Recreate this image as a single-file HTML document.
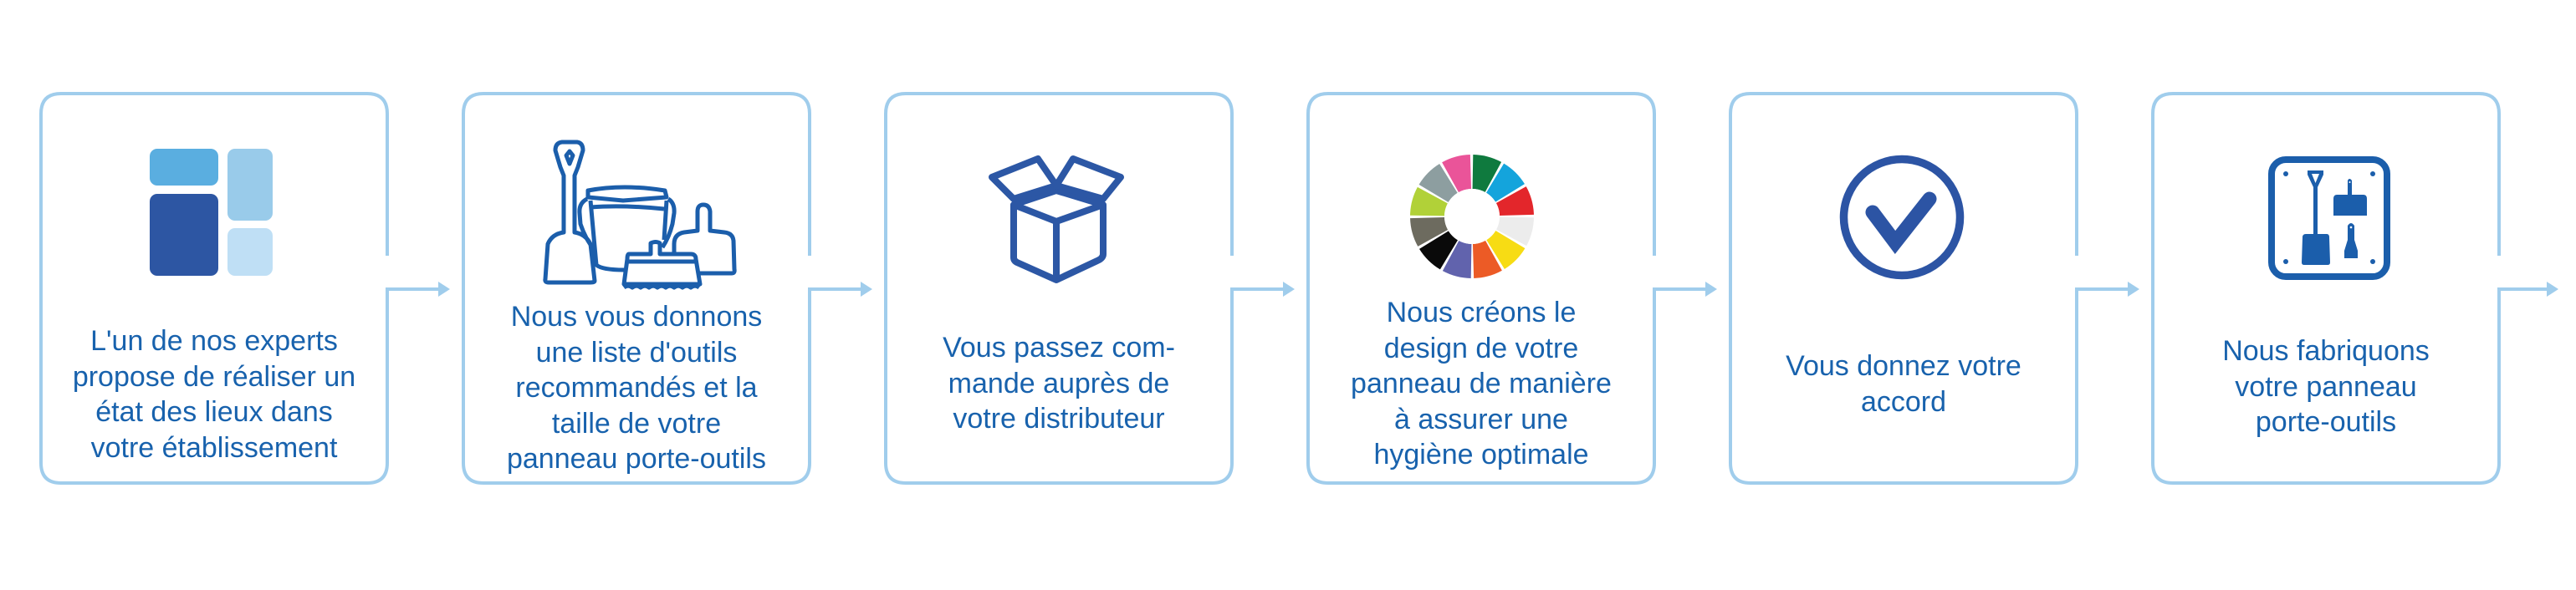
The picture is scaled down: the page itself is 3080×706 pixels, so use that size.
<!DOCTYPE html>
<html><head><meta charset="utf-8"><style>
html,body{margin:0;padding:0;background:#fff;}
body{width:3080px;height:706px;position:relative;overflow:hidden;}
.t{position:absolute;width:414px;text-align:center;font-family:"Liberation Sans",sans-serif;font-size:34px;line-height:42.5px;color:#1862ad;}
svg{position:absolute;left:0;top:0;}
</style></head><body>
<svg width="3080" height="706" viewBox="0 0 3080 706">
<g fill="none" stroke="#a0cdec" stroke-width="4">
<path d="M463 306 V136 Q463 112 439 112 H73 Q49 112 49 136 V554 Q49 578 73 578 H439 Q463 578 463 554 V346 H528"/>
<path d="M968 306 V136 Q968 112 944 112 H578 Q554 112 554 136 V554 Q554 578 578 578 H944 Q968 578 968 554 V346 H1033"/>
<path d="M1473 306 V136 Q1473 112 1449 112 H1083 Q1059 112 1059 136 V554 Q1059 578 1083 578 H1449 Q1473 578 1473 554 V346 H1538"/>
<path d="M1978 306 V136 Q1978 112 1954 112 H1588 Q1564 112 1564 136 V554 Q1564 578 1588 578 H1954 Q1978 578 1978 554 V346 H2043"/>
<path d="M2483 306 V136 Q2483 112 2459 112 H2093 Q2069 112 2069 136 V554 Q2069 578 2093 578 H2459 Q2483 578 2483 554 V346 H2548"/>
<path d="M2988 306 V136 Q2988 112 2964 112 H2598 Q2574 112 2574 136 V554 Q2574 578 2598 578 H2964 Q2988 578 2988 554 V346 H3053"/>
</g>
<g fill="#a0cdec">
<polygon points="524,337 538,346 524,355"/>
<polygon points="1029,337 1043,346 1029,355"/>
<polygon points="1534,337 1548,346 1534,355"/>
<polygon points="2039,337 2053,346 2039,355"/>
<polygon points="2544,337 2558,346 2544,355"/>
<polygon points="3045,337 3059,346 3045,355"/>
</g>
<!-- icon 1 -->
<rect x="179" y="178" width="82" height="44" rx="9" fill="#5aaee0"/>
<rect x="272" y="178" width="54" height="86" rx="9" fill="#99cbea"/>
<rect x="179" y="232" width="82" height="98" rx="9" fill="#2d56a3"/>
<rect x="272" y="273" width="54" height="57" rx="9" fill="#bfdff5"/>
<!-- icon 2 tools -->
<g fill="none" stroke="#1b5eab" stroke-width="5" stroke-linejoin="round">
<path d="M672 170 H690 Q697 171 697 180 L691 200 L687 210 V278 Q700 280 706 292 L711 336 Q711 338 706 338 H656 Q651 338 652 334 L655 292 Q660 280 674 278 V210 L670 200 L664 180 Q664 171 672 170 Z"/>
<path d="M681 181 L677 186 L681 196 L685 186 Z"/>
<path d="M703 228 Q745 220 795 228 L797 236 L745 240 L703 236 Z"/>
<path d="M706 240 L713 317 Q720 323 746 323"/>
<path d="M797 240 L794 287"/>
<path d="M706 248 Q745 245 794 250"/>
<path d="M702 238 Q692 243 693 255 L694 268 Q700 286 710 298"/>
<path d="M799 238 Q807 243 806 255 L804 268 Q800 284 792 296"/>
<path d="M752 304 H778 V291 Q784 288 789 291 V304 H826 Q832 304 832 310 L837 340 H746 L750 310 Q750 304 752 304 Z"/>
<path d="M750 313 H834"/>
<path d="M746 344 Q751 340 756 344 Q761 340 766 344 Q771 340 776 344 Q781 340 786 344 Q791 340 796 344 Q801 340 806 344 Q811 340 816 344 Q821 340 826 344 Q831 340 836 344"/>
<path d="M836 327 H875 Q879 327 878 322 L877 288 Q876 279 866 278 L849 276 V253 Q848 245 841 245 Q834 245 834 253 V276 L818 278 Q806 280 806 292 V304"/>
</g>
<!-- icon 3 box -->
<g fill="none" stroke="#2c57a5" stroke-width="8" stroke-linejoin="round">
<path d="M1212 245 L1263 228 L1319 245 L1263 265 Z"/>
<path d="M1212 245 V308 Q1212 312 1216 314 L1263 335 L1312 312 Q1319 309 1319 304 V245"/>
<path d="M1263 265 V335"/>
<path d="M1212 238 L1186 212 L1241 190 L1263 222 Z"/>
<path d="M1319 238 L1340 212 L1283 190 L1263 222 Z"/>
</g>
<!-- icon 4 wheel -->
<g transform="translate(1760 259) scale(1 1)" fill="none" stroke-width="41">
<circle r="53.5" stroke="#0f7a3e" stroke-dasharray="25.5 400" transform="rotate(-89)"/>
<circle r="53.5" stroke="#14a4dc" stroke-dasharray="25.5 400" transform="rotate(-59)"/>
<circle r="53.5" stroke="#e3262b" stroke-dasharray="25.5 400" transform="rotate(-29)"/>
<circle r="53.5" stroke="#ececec" stroke-dasharray="25.5 400" transform="rotate(1)"/>
<circle r="53.5" stroke="#f7dc14" stroke-dasharray="25.5 400" transform="rotate(31)"/>
<circle r="53.5" stroke="#ec5b26" stroke-dasharray="25.5 400" transform="rotate(61)"/>
<circle r="53.5" stroke="#6163ad" stroke-dasharray="25.5 400" transform="rotate(91)"/>
<circle r="53.5" stroke="#0a0a0a" stroke-dasharray="25.5 400" transform="rotate(121)"/>
<circle r="53.5" stroke="#6d6b5f" stroke-dasharray="25.5 400" transform="rotate(151)"/>
<circle r="53.5" stroke="#b1d138" stroke-dasharray="25.5 400" transform="rotate(181)"/>
<circle r="53.5" stroke="#8d9ea0" stroke-dasharray="25.5 400" transform="rotate(211)"/>
<circle r="53.5" stroke="#ea5499" stroke-dasharray="25.5 400" transform="rotate(241)"/>
</g>
<circle cx="1760" cy="259" r="33" fill="#fff"/>
<!-- icon 5 check -->
<circle cx="2274" cy="260" r="69.5" fill="none" stroke="#2c54a4" stroke-width="9.5"/>
<polyline points="2239,254 2266,290 2307,238" fill="none" stroke="#2c54a4" stroke-width="17" stroke-linejoin="miter" stroke-linecap="round"/>
<!-- icon 6 panel -->
<rect x="2716" y="191" width="138" height="140" rx="17" fill="none" stroke="#1b5eab" stroke-width="8"/>
<g fill="#1b5eab">
<circle cx="2733" cy="208" r="3"/><circle cx="2837" cy="208" r="3"/>
<circle cx="2733" cy="313" r="3"/><circle cx="2837" cy="313" r="3"/>
<path d="M2759 204 H2778 V209 L2771 224 V280 H2782 Q2785 280 2785 284 L2786 314 Q2786 317 2783 317 H2755 Q2752 317 2752 314 L2753 284 Q2753 280 2757 280 H2766 V224 L2759 209 Z"/>
<path d="M2807 216 Q2809 212 2812 216 V233 H2826 Q2830 233 2830 238 V258 H2790 V238 Q2790 233 2794 233 H2807 Z"/>
<path d="M2807 270 Q2811 264 2815 270 V287 L2819 300 V309 H2803 V300 L2807 287 Z"/>
</g>
<g fill="#fff"><path d="M2764 208 H2773 L2768.5 219 Z"/><circle cx="2809.5" cy="218" r="1"/><circle cx="2811" cy="272" r="1.3"/></g>
</svg>
<div class="t" style="left:49px;top:387px">L'un de nos experts<br>propose de réaliser un<br>état des lieux dans<br>votre établissement</div>
<div class="t" style="left:554px;top:358px">Nous vous donnons<br>une liste d'outils<br>recommandés et la<br>taille de votre<br>panneau porte-outils</div>
<div class="t" style="left:1059px;top:395px">Vous passez com-<br>mande auprès de<br>votre distributeur</div>
<div class="t" style="left:1564px;top:353px">Nous créons le<br>design de votre<br>panneau de manière<br>à assurer une<br>hygiène optimale</div>
<div class="t" style="left:2069px;top:417px">Vous donnez votre<br>accord</div>
<div class="t" style="left:2574px;top:399px">Nous fabriquons<br>votre panneau<br>porte-outils</div>
</body></html>
